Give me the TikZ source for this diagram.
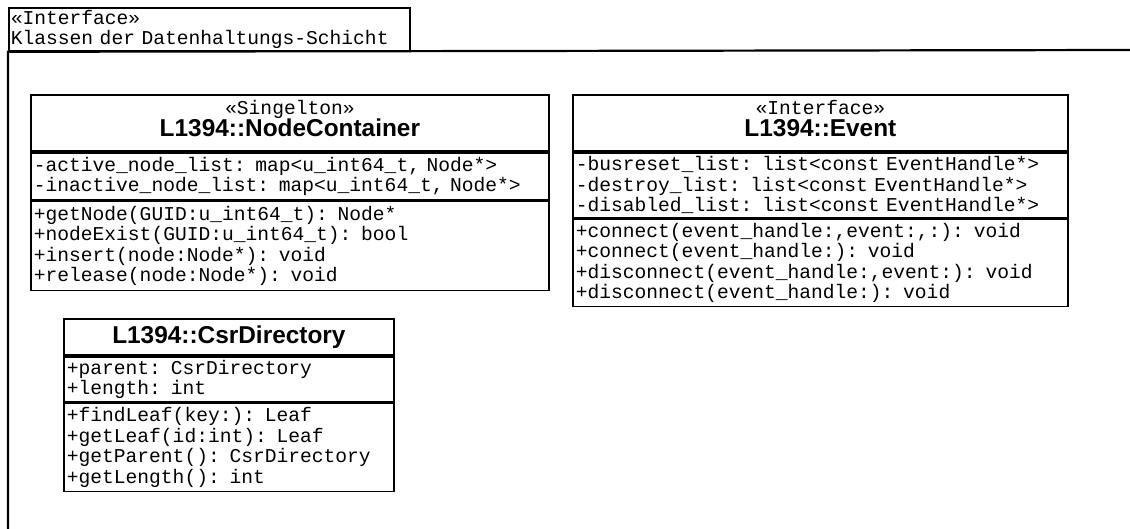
\documentclass[tikz,border=0pt]{standalone}
\usepackage{fontspec}
\setmonofont{Liberation Mono}
\newfontfamily\headfont{Liberation Sans}
\usetikzlibrary{positioning}

% class compartments: typewriter text, names in bold sans
\newcommand\umlfont{\ttfamily\fontsize{19.6}{20.4}\selectfont\lineskiplimit=-50pt\relax}
\newcommand\stereo[1]{«#1»}
\newcommand\classname[1]{{\headfont\bfseries\fontsize{24.4}{28}\selectfont #1}}
\newcommand\headgap{\rule[-9pt]{0pt}{9pt}}% lifts two-line heads a little

\tikzset{
  pkgframe/.style={line width=2.2pt},
  tabbox/.style={draw, line width=1.8pt, align=left, inner xsep=2pt, inner ysep=0pt, font=\umlfont},
  classhead/.style={draw, line width=1.8pt, align=center, inner sep=0pt, font=\umlfont},
  classpart/.style={draw, line width=1.8pt, align=left, inner xsep=3pt, inner ysep=0pt, font=\umlfont},
}

\begin{document}
\begin{tikzpicture}[x=1pt, y=-1pt]
\useasboundingbox (0,0) rectangle (1130,529);

%Package
\node[tabbox, text width=397pt, minimum height=43pt, anchor=north west] (pkg-tab) at (8,7)
  {\stereo{Interface}\\Klassen der Datenhaltungs-Schicht};
\draw[pkgframe] (1131,50) -- (pkg-tab.south west) -- (8,530);

%NodeContainer
\node[classhead, text width=518pt, minimum height=56pt, anchor=north west] (nc-head) at (30,94)
  {\stereo{Singelton}\\[2pt]\classname{L1394::NodeContainer}\headgap};
\node[classpart, text width=512pt, minimum height=47pt, below=0pt of nc-head] (nc-attr)
  {-active\_node\_list: map<u\_int64\_t, Node*>\\
   -inactive\_node\_list: map<u\_int64\_t, Node*>};
\node[classpart, text width=512pt, minimum height=89pt, below=0pt of nc-attr] (nc-ops)
  {+getNode(GUID:u\_int64\_t): Node*\\
   +nodeExist(GUID:u\_int64\_t): bool\\
   +insert(node:Node*): void\\
   +release(node:Node*): void};

%Event
\node[classhead, text width=495pt, minimum height=56pt, anchor=north west] (ev-head) at (572,94)
  {\stereo{Interface}\\[2pt]\classname{L1394::Event}\headgap};
\node[classpart, text width=489pt, minimum height=65pt, below=0pt of ev-head] (ev-attr)
  {-busreset\_list: list<const EventHandle*>\\
   -destroy\_list: list<const EventHandle*>\\
   -disabled\_list: list<const EventHandle*>};
\node[classpart, text width=489pt, minimum height=87pt, below=0pt of ev-attr] (ev-ops)
  {+connect(event\_handle:,event:,:): void\\
   +connect(event\_handle:): void\\
   +disconnect(event\_handle:,event:): void\\
   +disconnect(event\_handle:): void};

%CsrDirectory
\node[classhead, text width=330pt, minimum height=36pt, anchor=north west] (cd-head) at (63,318)
  {\classname{L1394::CsrDirectory}};
\node[classpart, text width=324pt, minimum height=45pt, below=0pt of cd-head] (cd-attr)
  {+parent: CsrDirectory\\
   +length: int};
\node[classpart, text width=324pt, minimum height=88pt, below=0pt of cd-attr] (cd-ops)
  {+findLeaf(key:): Leaf\\
   +getLeaf(id:int): Leaf\\
   +getParent(): CsrDirectory\\
   +getLength(): int};
\end{tikzpicture}
\end{document}
